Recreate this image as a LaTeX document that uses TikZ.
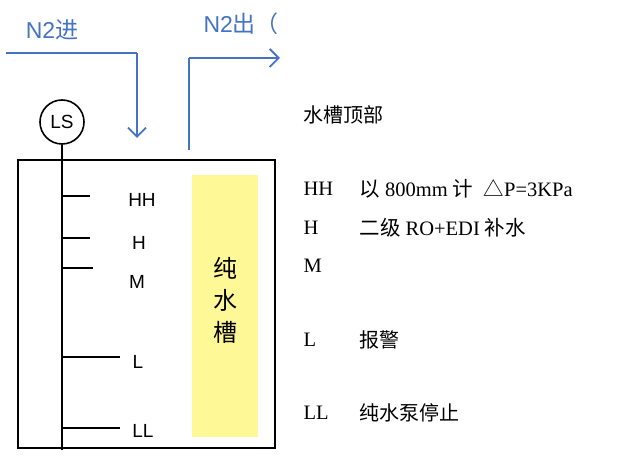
\documentclass[tikz,border=0pt]{standalone}
\usepackage{fontspec}
\setmainfont{Liberation Serif}
\setsansfont{Liberation Sans}
\newfontfamily\cjk{Noto Sans CJK SC}
\usetikzlibrary{arrows.meta}
\definecolor{pipeblue}{RGB}{68,114,196}
\definecolor{tankyellow}{RGB}{255,248,150}
\tikzset{
pipe/.style = {draw=pipeblue,line width=1.8pt},
pipearrow/.style = {pipe, -{Straight Barb[length=9pt,width=18pt,line width=1.8pt]}},
pipelabel/.style = {text=pipeblue, font=\sffamily\fontsize{23}{23}\selectfont},
tick/.style = {draw,line width=1.6pt},
level/.style = {font=\sffamily\fontsize{19}{19}\selectfont},
note/.style = {anchor=west, font=\fontsize{20.5}{20.5}\selectfont}
}
\begin{document}
\begin{tikzpicture}[x=1pt,y=-1pt]
    \useasboundingbox (0,0) rectangle (619,465);
    % gas lines
    \node [pipelabel] (n2in) at (52,30) {N2{\cjk 进}};
    \node [pipelabel, anchor=west] (n2out) at (200,24) {N2{\cjk 出（}};
    \coordinate (inA) at (6,53);
    \coordinate (inB) at (137,53);
    \coordinate (inC) at (137,138);
    \coordinate (outA) at (189,150);
    \coordinate (outB) at (189,58);
    \coordinate (outC) at (280,58);
    \path [pipe] (inA) -- (inB);
    \path [pipearrow] (inB) -- (inC);
    \path [pipe] (outA) -- (outB);
    \path [pipearrow] (outB) -- (outC);
    % tank
    \draw [line width=1.6pt] (18,160) rectangle (275,448);
    \fill [tankyellow] (192,175) rectangle (258,437);
    \node [font=\cjk\fontsize{24}{32}\selectfont, align=center] (tank) at (225,300) {纯\\水\\槽};
    % level switch
    \node [draw, circle, line width=1.6pt, minimum size=44pt, inner sep=0pt, font=\sffamily\fontsize{19}{19}\selectfont] (ls) at (62,122) {LS};
    \coordinate (rodend) at (62,450);
    \path [tick] (ls) -- (rodend);
    \foreach \y/\len/\lab/\lx/\ly in {196/90/HH/142/200, 238/90/H/139/243, 268/93/M/137/282, 357/120/L/138/362, 428/120/LL/143/431} {
        \path [tick] (62,\y) -- (\len,\y);
        \node [level] at (\lx,\ly) {\lab};
    }
    % notes
    \node [note, font=\cjk\fontsize{20}{20}\selectfont] (top) at (300,115) {水槽顶部};
    \node [note] (hh) at (300,189) {HH};
    \node [note] (h) at (300,228) {H};
    \node [note] (m) at (300,266) {M};
    \node [note] (l) at (300,340) {L};
    \node [note] (ll) at (300,413) {LL};
    \node [note] (hhtxt) at (356,189) {{\cjk 以} 800mm {\cjk 计}\ \ {\cjk △}P=3KPa};
    \node [note] (htxt) at (356,228) {{\cjk 二级} RO+EDI {\cjk 补水}};
    \node [note, font=\cjk\fontsize{20}{20}\selectfont] (ltxt) at (356,340) {报警};
    \node [note, font=\cjk\fontsize{20}{20}\selectfont] (lltxt) at (356,413) {纯水泵停止};
\end{tikzpicture}
\end{document}
